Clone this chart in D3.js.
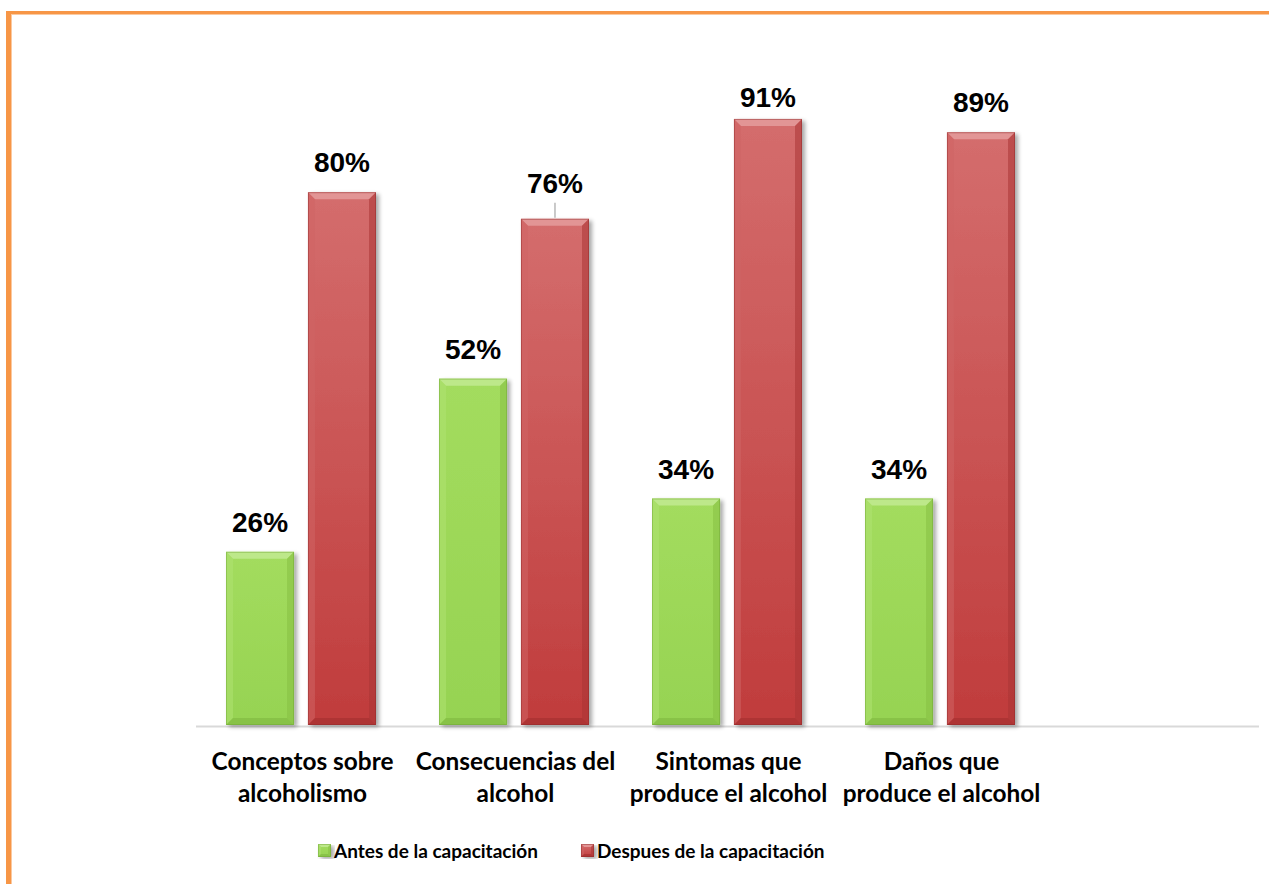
<!DOCTYPE html>
<html>
<head>
<meta charset="utf-8">
<script src="https://cdn.jsdelivr.net/npm/d3@7"></script>
<style>
  html, body { margin: 0; padding: 0; background: #ffffff; }
  svg { display: block; }
</style>
</head>
<body>
<svg id="chart" width="1269" height="884"></svg>
<script>
// Survey results before / after the training sessions
const categories = [
  ["Conceptos sobre", "alcoholismo"],
  ["Consecuencias del", "alcohol"],
  ["Sintomas que", "produce el alcohol"],
  ["Daños que", "produce el alcohol"],
  [""]
];
const seriesNames = ["Antes de la capacitación", "Despues de la capacitación"];
const antes = [26, 52, 34, 34];
const despues = [80, 76, 91, 89];
const yTicks = [0, 100];

const W = 1269, H = 884;
const svg = d3.select("#chart");

// frame: orange rule along the left and top edges
svg.append("rect").attr("x", 6).attr("y", 11).attr("width", W - 6).attr("height", 3.5).attr("fill", "#f79646");
svg.append("rect").attr("x", 6).attr("y", 11).attr("width", 5).attr("height", H - 11).attr("fill", "#f79646");
svg.append("rect").attr("x", 11).attr("y", 14.5).attr("width", 1).attr("height", H - 14).attr("fill", "#fbc9a0");

const plot = { left: 196, right: 1261, top: 59, bottom: 725 };

const x0 = d3.scaleBand()
  .domain(d3.range(categories.length))
  .range([plot.left, plot.right]);
const x1 = d3.scaleBand()
  .domain([0, 1])
  .range([30, 180])
  .paddingInner(0.17);
const y = d3.scaleLinear()
  .domain(d3.extent(yTicks))
  .range([plot.bottom, plot.top]);

const defs = svg.append("defs");
const palettes = [
  { top: "#a3dc5e", bottom: "#96d352", bevelTop: "#bde88a", bevelLeft: "#aee171", bevelRight: "#86c044", bevelBottom: "#7fb83f", edge: "#6fa336" },
  { top: "#d46d6d", bottom: "#c03c3c", bevelTop: "#e29595", bevelLeft: "#d06464", bevelRight: "#a93434", bevelBottom: "#a22f2f", edge: "#8d2a2a" }
];
palettes.forEach((p, i) => {
  const g = defs.append("linearGradient").attr("id", "fill" + i)
    .attr("x1", 0).attr("y1", 0).attr("x2", 0).attr("y2", 1);
  g.append("stop").attr("offset", "0%").attr("stop-color", p.top);
  g.append("stop").attr("offset", "100%").attr("stop-color", p.bottom);
});
const shadow = defs.append("filter").attr("id", "shadow")
  .attr("x", "-20%").attr("y", "-5%").attr("width", "150%").attr("height", "115%");
shadow.append("feGaussianBlur").attr("in", "SourceAlpha").attr("stdDeviation", 2.2).attr("result", "b");
shadow.append("feOffset").attr("in", "b").attr("dx", 2.5).attr("dy", 2).attr("result", "o");
shadow.append("feComponentTransfer").attr("in", "o").attr("result", "s")
  .append("feFuncA").attr("type", "linear").attr("slope", 0.35);
const merge = shadow.append("feMerge");
merge.append("feMergeNode").attr("in", "s");
merge.append("feMergeNode").attr("in", "SourceGraphic");

// baseline
svg.append("line")
  .attr("x1", plot.left).attr("x2", plot.right - 2)
  .attr("y1", plot.bottom + 1.5).attr("y2", plot.bottom + 1.5)
  .attr("stroke", "#d9d9d9").attr("stroke-width", 2);

const rows = [];
[antes, despues].forEach((vals, s) => vals.forEach((v, c) => rows.push({ s, c, v })));

// bevelled bars
function drawBar(g, bx, by, bw, bh, p, b) {
  g.append("rect").attr("x", bx).attr("y", by).attr("width", bw).attr("height", bh)
    .attr("fill", "url(#fill" + palettes.indexOf(p) + ")").attr("filter", "url(#shadow)");
  const pts = a => a.map(q => q.join(",")).join(" ");
  const x2 = bx + bw, y2 = by + bh;
  g.append("polygon").attr("points", pts([[bx, by], [x2, by], [x2 - b, by + b], [bx + b, by + b]])).attr("fill", p.bevelTop);
  g.append("polygon").attr("points", pts([[bx, by], [bx + b, by + b], [bx + b, y2 - b], [bx, y2]])).attr("fill", p.bevelLeft).attr("opacity", 0.55);
  g.append("polygon").attr("points", pts([[x2, by], [x2, y2], [x2 - b, y2 - b], [x2 - b, by + b]])).attr("fill", p.bevelRight).attr("opacity", 0.55);
  g.append("polygon").attr("points", pts([[bx, y2], [bx + b, y2 - b], [x2 - b, y2 - b], [x2, y2]])).attr("fill", p.bevelBottom).attr("opacity", 0.6);
  g.append("rect").attr("x", bx + 0.5).attr("y", by + 0.5).attr("width", bw - 1).attr("height", bh - 1)
    .attr("fill", "none").attr("stroke", p.edge).attr("stroke-opacity", 0.45);
}

const barsG = svg.append("g");
rows.forEach(d => {
  const bx = x0(d.c) + x1(d.s);
  const by = y(d.v);
  drawBar(barsG, bx, by, x1.bandwidth(), y(0) - by, palettes[d.s], 7);
});

// value labels
const labelFont = "'Liberation Sans', Arial, sans-serif";
const labelTopLimit = 107;
rows.forEach(d => {
  const cx = x0(d.c) + x1(d.s) + x1.bandwidth() / 2;
  const top = y(d.v);
  const lifted = d.s === 1 && d.c === 1;
  let base = Math.max(top - 20, labelTopLimit);
  if (lifted) {
    base = top - 26;
    svg.append("line").attr("x1", cx).attr("x2", cx)
      .attr("y1", top - 16).attr("y2", top - 1)
      .attr("stroke", "#a6a6a6").attr("stroke-width", 1.2);
  }
  svg.append("text")
    .attr("x", cx).attr("y", base)
    .attr("text-anchor", "middle")
    .attr("font-family", labelFont).attr("font-weight", "bold").attr("font-size", 28)
    .attr("fill", "#000")
    .text(d.v + "%");
});

// category labels
const catFont = "Lato, 'Open Sans', sans-serif";
categories.forEach((lines, c) => {
  const cx = x0(c) + x0.bandwidth() / 2;
  const t = svg.append("text")
    .attr("x", cx).attr("y", 770)
    .attr("text-anchor", "middle")
    .attr("font-family", catFont).attr("font-weight", "bold").attr("font-size", 24.4)
    .attr("fill", "#000");
  lines.forEach((ln, i) => {
    t.append("tspan").attr("x", cx).attr("dy", i === 0 ? 0 : 32).text(ln);
  });
});

// legend
const legendItems = [
  { name: seriesNames[0], p: palettes[0], x: 318 },
  { name: seriesNames[1], p: palettes[1], x: 581 }
];
legendItems.forEach(it => {
  const g = svg.append("g");
  drawBar(g, it.x, 844, 13, 13, it.p, 3);
  g.append("text").attr("x", it.x + 16).attr("y", 858)
    .attr("font-family", catFont).attr("font-weight", "bold").attr("font-size", 19)
    .attr("fill", "#000").text(it.name);
});
</script>
</body>
</html>
